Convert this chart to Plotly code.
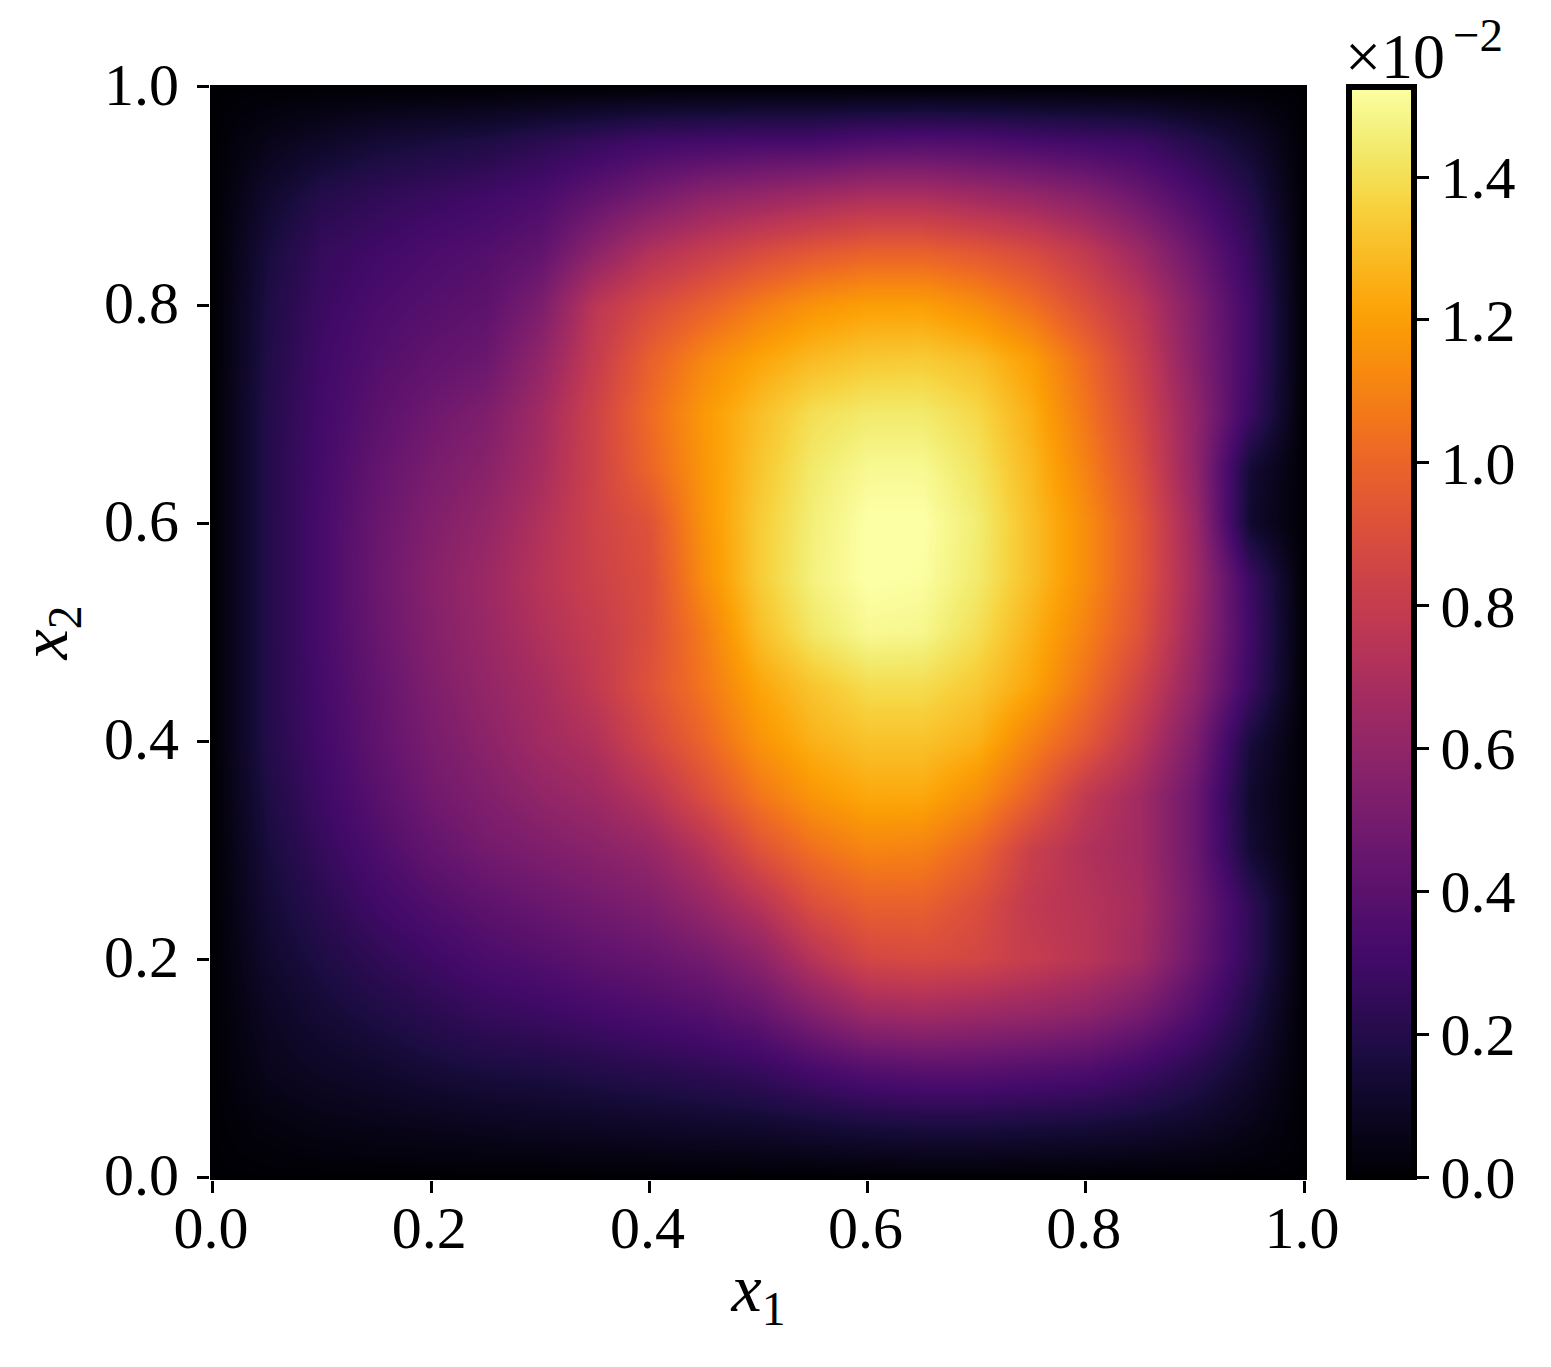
import plotly.graph_objects as go

W, H = 1551, 1367
L, R, T, B = 210, 1307, 85, 1180

x1_grid = [0, .05, .1, .15, .2, .25, .3, .35, .4, .45, .5, .55, .6, .65, .7, .75, .8, .85, .9, .95, 1]
x2_grid = [1, .95, .9, .85, .8, .75, .7, .65, .6, .55, .5, .45, .4, .35, .3, .25, .2, .15, .1, .05, 0]
tick_vals = [0, .2, .4, .6, .8, 1]
cbar_ticks = [0, .2, .4, .6, .8, 1.0, 1.2, 1.4]
z_max = 1.526

# values in units of 1e-2, rows from x2 = 1 down to x2 = 0
field = [
 [0]*21,
 [0,.06,.10,.14,.16,.18,.22,.26,.30,.31,.32,.32,.35,.36,.35,.32,.30,.28,.20,.12,0],
 [0,.12,.20,.24,.27,.30,.34,.42,.50,.58,.62,.66,.70,.70,.66,.62,.56,.46,.34,.20,0],
 [0,.16,.26,.30,.34,.37,.42,.58,.72,.80,.88,.94,.98,.98,.94,.88,.78,.64,.46,.26,0],
 [0,.18,.28,.34,.38,.41,.52,.76,.88,.98,1.08,1.16,1.20,1.20,1.14,1.04,.90,.76,.54,.30,0],
 [0,.19,.30,.37,.42,.46,.60,.80,.98,1.12,1.22,1.29,1.33,1.34,1.30,1.20,1.02,.82,.56,.30,0],
 [0,.20,.31,.40,.47,.53,.66,.84,1.02,1.18,1.30,1.40,1.44,1.44,1.38,1.25,1.06,.86,.60,.28,0],
 [0,.20,.32,.43,.51,.57,.68,.84,1.00,1.17,1.32,1.44,1.50,1.50,1.42,1.28,1.10,.90,.60,.14,0],
 [0,.20,.33,.45,.54,.61,.72,.84,.92,1.16,1.34,1.46,1.53,1.53,1.45,1.30,1.14,.94,.64,.12,0],
 [0,.20,.33,.46,.56,.64,.74,.83,.90,1.14,1.34,1.47,1.53,1.52,1.44,1.30,1.14,.94,.66,.28,0],
 [0,.20,.33,.45,.55,.63,.72,.80,.90,1.08,1.30,1.43,1.50,1.49,1.40,1.26,1.10,.92,.64,.30,0],
 [0,.20,.32,.43,.53,.61,.68,.78,.92,1.06,1.22,1.32,1.39,1.39,1.33,1.22,1.04,.84,.60,.28,0],
 [0,.20,.31,.42,.51,.58,.66,.72,.86,1.00,1.16,1.26,1.31,1.31,1.26,1.10,.95,.76,.52,.16,0],
 [0,.18,.29,.39,.48,.54,.60,.65,.74,.90,1.06,1.17,1.23,1.23,1.14,.98,.78,.66,.46,.12,0],
 [0,.16,.26,.35,.43,.49,.53,.57,.62,.74,.92,1.04,1.11,1.10,1.00,.82,.72,.66,.46,.14,0],
 [0,.14,.22,.30,.36,.41,.45,.49,.53,.62,.74,.90,.98,.98,.90,.78,.74,.68,.48,.24,0],
 [0,.12,.18,.24,.29,.34,.37,.41,.44,.49,.58,.74,.86,.88,.86,.80,.75,.66,.46,.24,0],
 [0,.09,.14,.18,.22,.26,.28,.31,.34,.37,.43,.54,.64,.66,.64,.62,.58,.50,.36,.18,0],
 [0,.07,.10,.12,.15,.17,.18,.20,.22,.24,.27,.33,.38,.40,.40,.38,.36,.30,.22,.12,0],
 [0,.03,.05,.06,.07,.08,.09,.10,.11,.12,.13,.15,.17,.18,.18,.17,.16,.14,.11,.06,0],
 [0]*21,
]

inferno = [
 [0, "#000004"], [.1, "#160b39"], [.111, "#1b0c41"], [.2, "#420a68"], [.222, "#4a0c6b"],
 [.3, "#6a176e"], [.333, "#781c6d"], [.4, "#932667"], [.444, "#a52c60"], [.5, "#bc3754"],
 [.556, "#cf4446"], [.6, "#dd513a"], [.667, "#ed6925"], [.7, "#f37819"], [.778, "#fb9b06"],
 [.8, "#fca50a"], [.889, "#f7d13d"], [.9, "#f6d746"], [.95, "#f2ed72"], [1, "#fcffa4"],
]

FONT = "Liberation Serif"
tick_font = dict(family=FONT, size=60, color="black")
title_font = dict(family=FONT, size=68, color="black")

fig = go.Figure(go.Heatmap(
    x=x1_grid, y=x2_grid, z=field, zmin=0, zmax=z_max, zsmooth="best",
    colorscale=inferno,
    colorbar=dict(
        x=1349/W, xanchor="left", xref="paper", xpad=0,
        y=(H-1177)/H, yanchor="bottom", yref="paper", ypad=0,
        len=1090/H, lenmode="fraction",
        thickness=65, thicknessmode="pixels",
        outlinecolor="black", outlinewidth=6,
        tickmode="array", tickvals=cbar_ticks, ticktext=[f"{v:.1f}" for v in cbar_ticks],
        ticks="outside", ticklen=12, tickwidth=3, tickcolor="black",
        tickfont=tick_font,
    ),
))

fig.update_layout(
    width=W, height=H, autosize=False,
    margin=dict(l=0, r=0, t=0, b=0, autoexpand=False),
    paper_bgcolor="white", plot_bgcolor="white",
    font=dict(family=FONT, color="black"),
    xaxis=dict(
        domain=[L/W, R/W], range=[-0.0027, 1.0027], tickmode="array",
        tickvals=tick_vals, ticktext=[f"{v:.1f}" for v in tick_vals],
        ticks="outside", ticklen=12, tickwidth=3, tickcolor="black",
        tickfont=tick_font, showgrid=False, zeroline=False, showline=False,
        automargin=False, ticklabelstandoff=-17, ticklabelshift=-2,
        title=dict(text="<i>x</i><sub>1</sub>", font=title_font, standoff=3),
    ),
    yaxis=dict(
        domain=[(H-B)/H, (H-T)/H], range=[-0.0025, 1.0018], tickmode="array",
        tickvals=tick_vals, ticktext=[f"{v:.1f}" for v in tick_vals],
        ticks="outside", ticklen=12, tickwidth=3, tickcolor="black",
        tickfont=tick_font, showgrid=False, zeroline=False, showline=False,
        automargin=False, ticklabelstandoff=6, ticklabelshift=-3,
        title=dict(text="<i>x</i><sub>2</sub>", font=title_font, standoff=14),
    ),
    annotations=[
        dict(text="×10", xref="paper", yref="paper",
             x=1344/W, y=(H-93)/H, xanchor="left", yanchor="bottom",
             showarrow=False, font=dict(family=FONT, size=64, color="black"),
             borderpad=0),
        dict(text="−2", xref="paper", yref="paper",
             x=1452/W, y=(H-62)/H, xanchor="left", yanchor="bottom",
             showarrow=False, font=dict(family=FONT, size=47, color="black"),
             borderpad=0),
    ],
)

fig.write_html("out.html", post_script="document.body.style.margin='0';",
               config=dict(displayModeBar=False))
